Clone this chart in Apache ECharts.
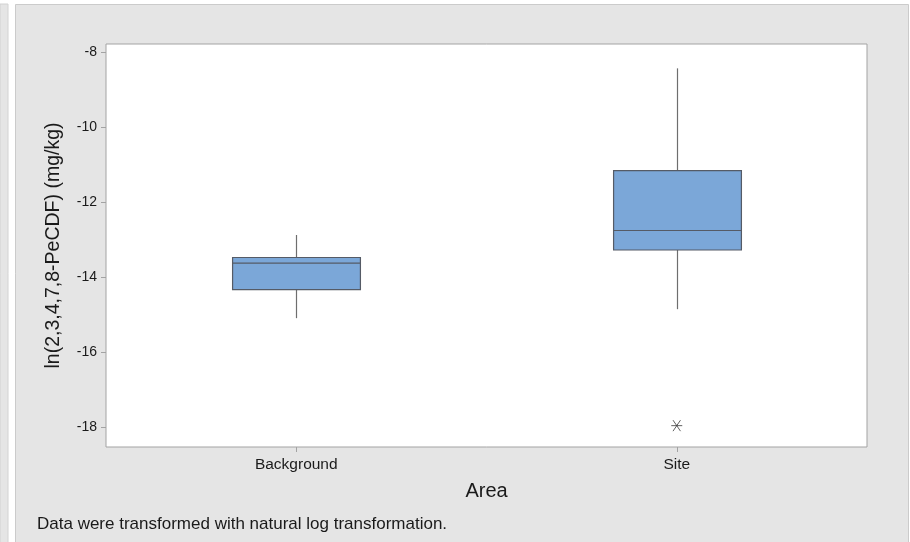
<!DOCTYPE html>
<html>
<head>
<meta charset="utf-8">
<script src="https://cdn.jsdelivr.net/npm/echarts@6/dist/echarts.min.js"></script>
<style>
  html, body { margin: 0; padding: 0; background: #ffffff; }
  #chart { width: 910px; height: 542px; }
</style>
</head>
<body>
<div id="chart"></div>
<script>
// Groups on the x axis
const categories = ['Background', 'Site'];
// Box statistics per group: [lower whisker, Q1, median, Q3, upper whisker]
const backgroundBox = [-15.10, -14.34, -13.63, -13.48, -12.88];
const siteBox = [-14.86, -13.28, -12.76, -11.16, -8.43];
// Outlying observations: [group, value]
const outliers = [['Site', -17.97]];
// Tick labels on the value axis
const yTicks = [-18, -16, -14, -12, -10, -8];

const FONT = 'Liberation Sans';
const BOX_FRACTION = 0.336;   // box width as a share of the category band

const boxRows = [backgroundBox, siteBox].map((b, i) => [i].concat(b));

// Minitab-style box: filled IQR box, median line, plain whiskers without caps
function renderBox(params, api) {
  const idx = api.value(0);
  const lo = api.coord([idx, api.value(1)]);
  const q1 = api.coord([idx, api.value(2)]);
  const md = api.coord([idx, api.value(3)]);
  const q3 = api.coord([idx, api.value(4)]);
  const hi = api.coord([idx, api.value(5)]);
  const band = api.size([1, 0])[0];
  const half = band * BOX_FRACTION / 2;
  const cx = Math.round(lo[0]) + 0.5;
  const whisker = { stroke: '#6e6e6e', lineWidth: 1.2 };
  return {
    type: 'group',
    children: [
      { type: 'line', shape: { x1: cx, y1: hi[1], x2: cx, y2: q3[1] }, style: whisker },
      { type: 'line', shape: { x1: cx, y1: q1[1], x2: cx, y2: lo[1] }, style: whisker },
      { type: 'rect', shape: { x: cx - half, y: q3[1], width: half * 2, height: q1[1] - q3[1] },
        style: { fill: '#7ba7d8', stroke: '#555b66', lineWidth: 1.2 } },
      { type: 'line', shape: { x1: cx - half, y1: md[1], x2: cx + half, y2: md[1] },
        style: { stroke: '#555b66', lineWidth: 1.2 } }
    ]
  };
}

const chart = echarts.init(document.getElementById('chart'), null, { renderer: 'canvas' });

const option = {
  animation: false,
  backgroundColor: 'transparent',
  textStyle: { fontFamily: FONT },
  graphic: [
    { type: 'rect', z: -100, shape: { x: 0, y: 4, width: 8, height: 560 },
      style: { fill: '#e5e5e5', stroke: '#d2d2d2', lineWidth: 1 } },
    { type: 'rect', z: -100, shape: { x: 15.5, y: 4.5, width: 893, height: 560 },
      style: { fill: '#e5e5e5', stroke: '#cbcbcb', lineWidth: 1 } },
    { type: 'text', z: 10, left: 37, top: 516,
      style: { text: 'Data were transformed with natural log transformation.',
               fill: '#1a1a1a', font: '17px "' + FONT + '"' } }
  ],
  grid: {
    left: 106, right: 43, top: 44, bottom: 95,
    show: true, backgroundColor: '#ffffff', borderColor: '#a3a3a3', borderWidth: 1
  },
  xAxis: {
    type: 'category',
    data: categories,
    name: 'Area',
    nameLocation: 'middle',
    nameGap: 34,
    nameTextStyle: { fontSize: 20, color: '#1a1a1a', fontFamily: FONT },
    axisLine: { show: false },
    axisTick: { show: true, alignWithLabel: true, length: 5, lineStyle: { color: '#a3a3a3' } },
    axisLabel: { fontSize: 15.5, color: '#1a1a1a', margin: 10, fontFamily: FONT },
    splitLine: { show: false }
  },
  yAxis: {
    type: 'value',
    min: -18.54,
    max: -7.78,
    name: 'ln(2,3,4,7,8-PeCDF) (mg/kg)',
    nameLocation: 'middle',
    nameGap: 42,
    nameRotate: 90,
    nameTextStyle: { fontSize: 19.5, color: '#1a1a1a', fontFamily: FONT },
    axisLine: { show: false },
    axisTick: { show: true, length: 5, customValues: yTicks, lineStyle: { color: '#a3a3a3' } },
    axisLabel: { fontSize: 14, color: '#1a1a1a', margin: 9, customValues: yTicks, fontFamily: FONT },
    splitLine: { show: false }
  },
  series: [
    {
      type: 'custom',
      data: boxRows,
      encode: { x: 0, y: [1, 2, 3, 4, 5] },
      renderItem: renderBox,
      emphasis: { disabled: true }
    },
    {
      type: 'scatter',
      data: outliers,
      symbol: 'path://M0,5L10,5M1.6,1.6L8.4,8.4M1.6,8.4L8.4,1.6',
      symbolSize: 11,
      itemStyle: { color: 'none', borderColor: '#3a3a3a', borderWidth: 1 },
      emphasis: { disabled: true }
    }
  ]
};

chart.setOption(option);
</script>
</body>
</html>
